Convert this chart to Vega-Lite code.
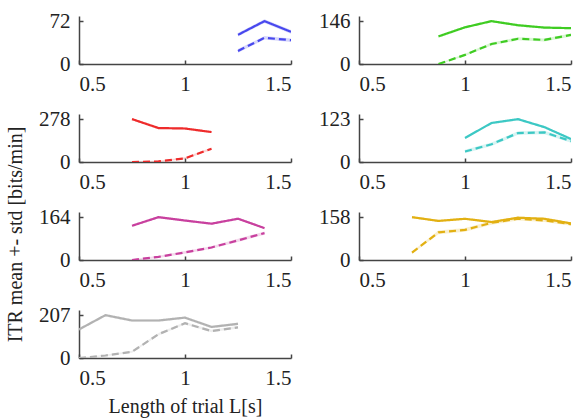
{
  "$schema": "https://vega.github.io/schema/vega-lite/v6.json",
  "padding": {"left": 4, "top": 10, "right": 5, "bottom": 5},
  "background": "white",
  "bounds": "flush",
  "columns": 2,
  "spacing": {"row": 50, "column": 68},
  "datasets": {
    "itr": [
      {"p": 1, "x": 1.25, "m": "A", "itr": 49, "sd": 3},
      {"p": 1, "x": 1.375, "m": "A", "itr": 72, "sd": 3},
      {"p": 1, "x": 1.5, "m": "A", "itr": 54, "sd": 3},
      {"p": 1, "x": 1.25, "m": "B", "itr": 22, "sd": 3},
      {"p": 1, "x": 1.375, "m": "B", "itr": 44, "sd": 3},
      {"p": 1, "x": 1.5, "m": "B", "itr": 40, "sd": 3},

      {"p": 2, "x": 0.875, "m": "A", "itr": 94, "sd": 4},
      {"p": 2, "x": 1.0, "m": "A", "itr": 125, "sd": 4},
      {"p": 2, "x": 1.125, "m": "A", "itr": 146, "sd": 4},
      {"p": 2, "x": 1.25, "m": "A", "itr": 132, "sd": 4},
      {"p": 2, "x": 1.375, "m": "A", "itr": 124, "sd": 4},
      {"p": 2, "x": 1.5, "m": "A", "itr": 122, "sd": 4},
      {"p": 2, "x": 0.875, "m": "B", "itr": 0, "sd": 2},
      {"p": 2, "x": 1.0, "m": "B", "itr": 31, "sd": 4},
      {"p": 2, "x": 1.125, "m": "B", "itr": 68, "sd": 5},
      {"p": 2, "x": 1.25, "m": "B", "itr": 86, "sd": 5},
      {"p": 2, "x": 1.375, "m": "B", "itr": 82, "sd": 5},
      {"p": 2, "x": 1.5, "m": "B", "itr": 99, "sd": 5},

      {"p": 3, "x": 0.75, "m": "A", "itr": 278, "sd": 6},
      {"p": 3, "x": 0.875, "m": "A", "itr": 220, "sd": 6},
      {"p": 3, "x": 1.0, "m": "A", "itr": 217, "sd": 6},
      {"p": 3, "x": 1.125, "m": "A", "itr": 194, "sd": 6},
      {"p": 3, "x": 0.75, "m": "B", "itr": 0, "sd": 3},
      {"p": 3, "x": 0.875, "m": "B", "itr": 4, "sd": 4},
      {"p": 3, "x": 1.0, "m": "B", "itr": 24, "sd": 6},
      {"p": 3, "x": 1.125, "m": "B", "itr": 86, "sd": 8},

      {"p": 4, "x": 1.0, "m": "A", "itr": 69, "sd": 3},
      {"p": 4, "x": 1.125, "m": "A", "itr": 112, "sd": 3},
      {"p": 4, "x": 1.25, "m": "A", "itr": 123, "sd": 3},
      {"p": 4, "x": 1.375, "m": "A", "itr": 100, "sd": 3},
      {"p": 4, "x": 1.5, "m": "A", "itr": 66, "sd": 3},
      {"p": 4, "x": 1.0, "m": "B", "itr": 30, "sd": 5},
      {"p": 4, "x": 1.125, "m": "B", "itr": 51, "sd": 5},
      {"p": 4, "x": 1.25, "m": "B", "itr": 83, "sd": 5},
      {"p": 4, "x": 1.375, "m": "B", "itr": 85, "sd": 5},
      {"p": 4, "x": 1.5, "m": "B", "itr": 60, "sd": 5},

      {"p": 5, "x": 0.75, "m": "A", "itr": 131, "sd": 4},
      {"p": 5, "x": 0.875, "m": "A", "itr": 164, "sd": 4},
      {"p": 5, "x": 1.0, "m": "A", "itr": 151, "sd": 4},
      {"p": 5, "x": 1.125, "m": "A", "itr": 139, "sd": 4},
      {"p": 5, "x": 1.25, "m": "A", "itr": 158, "sd": 4},
      {"p": 5, "x": 1.375, "m": "A", "itr": 122, "sd": 4},
      {"p": 5, "x": 0.75, "m": "B", "itr": 0, "sd": 3},
      {"p": 5, "x": 0.875, "m": "B", "itr": 12, "sd": 4},
      {"p": 5, "x": 1.0, "m": "B", "itr": 29, "sd": 5},
      {"p": 5, "x": 1.125, "m": "B", "itr": 48, "sd": 5},
      {"p": 5, "x": 1.25, "m": "B", "itr": 75, "sd": 6},
      {"p": 5, "x": 1.375, "m": "B", "itr": 103, "sd": 6},

      {"p": 6, "x": 0.75, "m": "A", "itr": 158, "sd": 4},
      {"p": 6, "x": 0.875, "m": "A", "itr": 144, "sd": 4},
      {"p": 6, "x": 1.0, "m": "A", "itr": 152, "sd": 4},
      {"p": 6, "x": 1.125, "m": "A", "itr": 140, "sd": 4},
      {"p": 6, "x": 1.25, "m": "A", "itr": 156, "sd": 4},
      {"p": 6, "x": 1.375, "m": "A", "itr": 152, "sd": 4},
      {"p": 6, "x": 1.5, "m": "A", "itr": 135, "sd": 4},
      {"p": 6, "x": 0.75, "m": "B", "itr": 27, "sd": 4},
      {"p": 6, "x": 0.875, "m": "B", "itr": 102, "sd": 7},
      {"p": 6, "x": 1.0, "m": "B", "itr": 111, "sd": 7},
      {"p": 6, "x": 1.125, "m": "B", "itr": 137, "sd": 7},
      {"p": 6, "x": 1.25, "m": "B", "itr": 152, "sd": 6},
      {"p": 6, "x": 1.375, "m": "B", "itr": 146, "sd": 6},
      {"p": 6, "x": 1.5, "m": "B", "itr": 132, "sd": 6},

      {"p": 7, "x": 0.5, "m": "A", "itr": 138, "sd": 6},
      {"p": 7, "x": 0.625, "m": "A", "itr": 207, "sd": 6},
      {"p": 7, "x": 0.75, "m": "A", "itr": 181, "sd": 6},
      {"p": 7, "x": 0.875, "m": "A", "itr": 181, "sd": 6},
      {"p": 7, "x": 1.0, "m": "A", "itr": 195, "sd": 6},
      {"p": 7, "x": 1.125, "m": "A", "itr": 150, "sd": 6},
      {"p": 7, "x": 1.25, "m": "A", "itr": 165, "sd": 6},
      {"p": 7, "x": 0.5, "m": "B", "itr": 0, "sd": 3},
      {"p": 7, "x": 0.625, "m": "B", "itr": 12, "sd": 4},
      {"p": 7, "x": 0.75, "m": "B", "itr": 30, "sd": 5},
      {"p": 7, "x": 0.875, "m": "B", "itr": 115, "sd": 6},
      {"p": 7, "x": 1.0, "m": "B", "itr": 168, "sd": 6},
      {"p": 7, "x": 1.125, "m": "B", "itr": 130, "sd": 6},
      {"p": 7, "x": 1.25, "m": "B", "itr": 148, "sd": 6}
    ]
  },
  "data": {"name": "itr"},
  "concat": [
    {
      "width": 212, "height": 48,
      "transform": [{"filter": "datum.p == 1"}, {"calculate": "datum.itr - datum.sd", "as": "lo"}, {"calculate": "datum.itr + datum.sd", "as": "hi"}],
      "encoding": {"x": {"field": "x", "type": "quantitative", "scale": {"domain": [0.5, 1.5], "nice": false}, "axis": {"values": [0.5, 1, 1.5], "format": "~g", "title": null}}},
      "layer": [
        {"mark": {"type": "area", "color": "#4848ee", "opacity": 0.22, "clip": true}, "encoding": {"y": {"field": "lo", "type": "quantitative", "scale": {"domain": [0, 80.6], "nice": false}}, "y2": {"field": "hi"}, "detail": {"field": "m"}}},
        {"mark": {"type": "line", "color": "#4848ee", "strokeWidth": 2.2, "clip": true}, "encoding": {"y": {"field": "itr", "type": "quantitative", "axis": {"values": [0, 72], "format": "d", "title": null}}, "strokeDash": {"field": "m", "type": "nominal", "scale": {"domain": ["A", "B"], "range": [[1, 0], [7, 4]]}, "legend": null}}}
      ]
    },
    {
      "width": 212, "height": 48,
      "transform": [{"filter": "datum.p == 2"}, {"calculate": "datum.itr - datum.sd", "as": "lo"}, {"calculate": "datum.itr + datum.sd", "as": "hi"}],
      "encoding": {"x": {"field": "x", "type": "quantitative", "scale": {"domain": [0.5, 1.5], "nice": false}, "axis": {"values": [0.5, 1, 1.5], "format": "~g", "title": null}}},
      "layer": [
        {"mark": {"type": "area", "color": "#3fcc22", "opacity": 0.2, "clip": true}, "encoding": {"y": {"field": "lo", "type": "quantitative", "scale": {"domain": [0, 163.5], "nice": false}}, "y2": {"field": "hi"}, "detail": {"field": "m"}}},
        {"mark": {"type": "line", "color": "#3fcc22", "strokeWidth": 2.2, "clip": true}, "encoding": {"y": {"field": "itr", "type": "quantitative", "axis": {"values": [0, 146], "format": "d", "title": null}}, "strokeDash": {"field": "m", "type": "nominal", "scale": {"domain": ["A", "B"], "range": [[1, 0], [7, 4]]}, "legend": null}}}
      ]
    },
    {
      "width": 212, "height": 48,
      "transform": [{"filter": "datum.p == 3"}, {"calculate": "datum.itr - datum.sd", "as": "lo"}, {"calculate": "datum.itr + datum.sd", "as": "hi"}],
      "encoding": {"x": {"field": "x", "type": "quantitative", "scale": {"domain": [0.5, 1.5], "nice": false}, "axis": {"values": [0.5, 1, 1.5], "format": "~g", "title": null}}},
      "layer": [
        {"mark": {"type": "area", "color": "#ee2b2b", "opacity": 0.2, "clip": true}, "encoding": {"y": {"field": "lo", "type": "quantitative", "scale": {"domain": [0, 311], "nice": false}}, "y2": {"field": "hi"}, "detail": {"field": "m"}}},
        {"mark": {"type": "line", "color": "#ee2b2b", "strokeWidth": 2.2, "clip": true}, "encoding": {"y": {"field": "itr", "type": "quantitative", "axis": {"values": [0, 278], "format": "d", "title": null}}, "strokeDash": {"field": "m", "type": "nominal", "scale": {"domain": ["A", "B"], "range": [[1, 0], [7, 4]]}, "legend": null}}}
      ]
    },
    {
      "width": 212, "height": 48,
      "transform": [{"filter": "datum.p == 4"}, {"calculate": "datum.itr - datum.sd", "as": "lo"}, {"calculate": "datum.itr + datum.sd", "as": "hi"}],
      "encoding": {"x": {"field": "x", "type": "quantitative", "scale": {"domain": [0.5, 1.5], "nice": false}, "axis": {"values": [0.5, 1, 1.5], "format": "~g", "title": null}}},
      "layer": [
        {"mark": {"type": "area", "color": "#3cc8c4", "opacity": 0.2, "clip": true}, "encoding": {"y": {"field": "lo", "type": "quantitative", "scale": {"domain": [0, 137.8], "nice": false}}, "y2": {"field": "hi"}, "detail": {"field": "m"}}},
        {"mark": {"type": "line", "color": "#3cc8c4", "strokeWidth": 2.2, "clip": true}, "encoding": {"y": {"field": "itr", "type": "quantitative", "axis": {"values": [0, 123], "format": "d", "title": null}}, "strokeDash": {"field": "m", "type": "nominal", "scale": {"domain": ["A", "B"], "range": [[1, 0], [7, 4]]}, "legend": null}}}
      ]
    },
    {
      "width": 212, "height": 48,
      "transform": [{"filter": "datum.p == 5"}, {"calculate": "datum.itr - datum.sd", "as": "lo"}, {"calculate": "datum.itr + datum.sd", "as": "hi"}],
      "encoding": {"x": {"field": "x", "type": "quantitative", "scale": {"domain": [0.5, 1.5], "nice": false}, "axis": {"values": [0.5, 1, 1.5], "format": "~g", "title": null}}},
      "layer": [
        {"mark": {"type": "area", "color": "#c8409e", "opacity": 0.2, "clip": true}, "encoding": {"y": {"field": "lo", "type": "quantitative", "scale": {"domain": [0, 183.7], "nice": false}}, "y2": {"field": "hi"}, "detail": {"field": "m"}}},
        {"mark": {"type": "line", "color": "#c8409e", "strokeWidth": 2.2, "clip": true}, "encoding": {"y": {"field": "itr", "type": "quantitative", "axis": {"values": [0, 164], "format": "d", "title": "ITR mean +- std [bits/min]", "titleX": -64, "titleY": 22, "titleAngle": 270, "titleAlign": "center", "titleBaseline": "middle"}}, "strokeDash": {"field": "m", "type": "nominal", "scale": {"domain": ["A", "B"], "range": [[1, 0], [7, 4]]}, "legend": null}}}
      ]
    },
    {
      "width": 212, "height": 48,
      "transform": [{"filter": "datum.p == 6"}, {"calculate": "datum.itr - datum.sd", "as": "lo"}, {"calculate": "datum.itr + datum.sd", "as": "hi"}],
      "encoding": {"x": {"field": "x", "type": "quantitative", "scale": {"domain": [0.5, 1.5], "nice": false}, "axis": {"values": [0.5, 1, 1.5], "format": "~g", "title": null}}},
      "layer": [
        {"mark": {"type": "area", "color": "#e2b012", "opacity": 0.2, "clip": true}, "encoding": {"y": {"field": "lo", "type": "quantitative", "scale": {"domain": [0, 177], "nice": false}}, "y2": {"field": "hi"}, "detail": {"field": "m"}}},
        {"mark": {"type": "line", "color": "#e2b012", "strokeWidth": 2.2, "clip": true}, "encoding": {"y": {"field": "itr", "type": "quantitative", "axis": {"values": [0, 158], "format": "d", "title": null}}, "strokeDash": {"field": "m", "type": "nominal", "scale": {"domain": ["A", "B"], "range": [[1, 0], [7, 4]]}, "legend": null}}}
      ]
    },
    {
      "width": 212, "height": 48,
      "transform": [{"filter": "datum.p == 7"}, {"calculate": "datum.itr - datum.sd", "as": "lo"}, {"calculate": "datum.itr + datum.sd", "as": "hi"}],
      "encoding": {"x": {"field": "x", "type": "quantitative", "scale": {"domain": [0.5, 1.5], "nice": false}, "axis": {"values": [0.5, 1, 1.5], "format": "~g", "title": "Length of trial L[s]", "titleX": 106, "titleY": 48, "titleAlign": "center", "titleBaseline": "middle"}}},
      "layer": [
        {"mark": {"type": "area", "color": "#b2b2b2", "opacity": 0.22, "clip": true}, "encoding": {"y": {"field": "lo", "type": "quantitative", "scale": {"domain": [0, 231.8], "nice": false}}, "y2": {"field": "hi"}, "detail": {"field": "m"}}},
        {"mark": {"type": "line", "color": "#b2b2b2", "strokeWidth": 2.2, "clip": true}, "encoding": {"y": {"field": "itr", "type": "quantitative", "axis": {"values": [0, 207], "format": "d", "title": null}}, "strokeDash": {"field": "m", "type": "nominal", "scale": {"domain": ["A", "B"], "range": [[1, 0], [7, 4]]}, "legend": null}}}
      ]
    }
  ],
  "config": {
    "view": {"stroke": null},
    "font": "Liberation Serif",
    "style": {"guide-label": {"font": "Liberation Serif", "fontSize": 21}, "guide-title": {"font": "Liberation Serif", "fontSize": 20}},
    "axis": {
      "grid": false,
      "labelFont": "Liberation Serif",
      "labelFontSize": 21,
      "labelColor": "#222222",
      "titleFont": "Liberation Serif",
      "titleFontSize": 20,
      "titleFontWeight": "normal",
      "titleColor": "#222222",
      "domainColor": "#444444",
      "domainWidth": 1.5,
      "tickColor": "#444444",
      "tickWidth": 1.5,
      "tickSize": -4
    },
    "axisX": {"labelPadding": 13, "labelFont": "Liberation Serif"},
    "axisY": {"labelPadding": 13, "labelFont": "Liberation Serif"}
  }
}
